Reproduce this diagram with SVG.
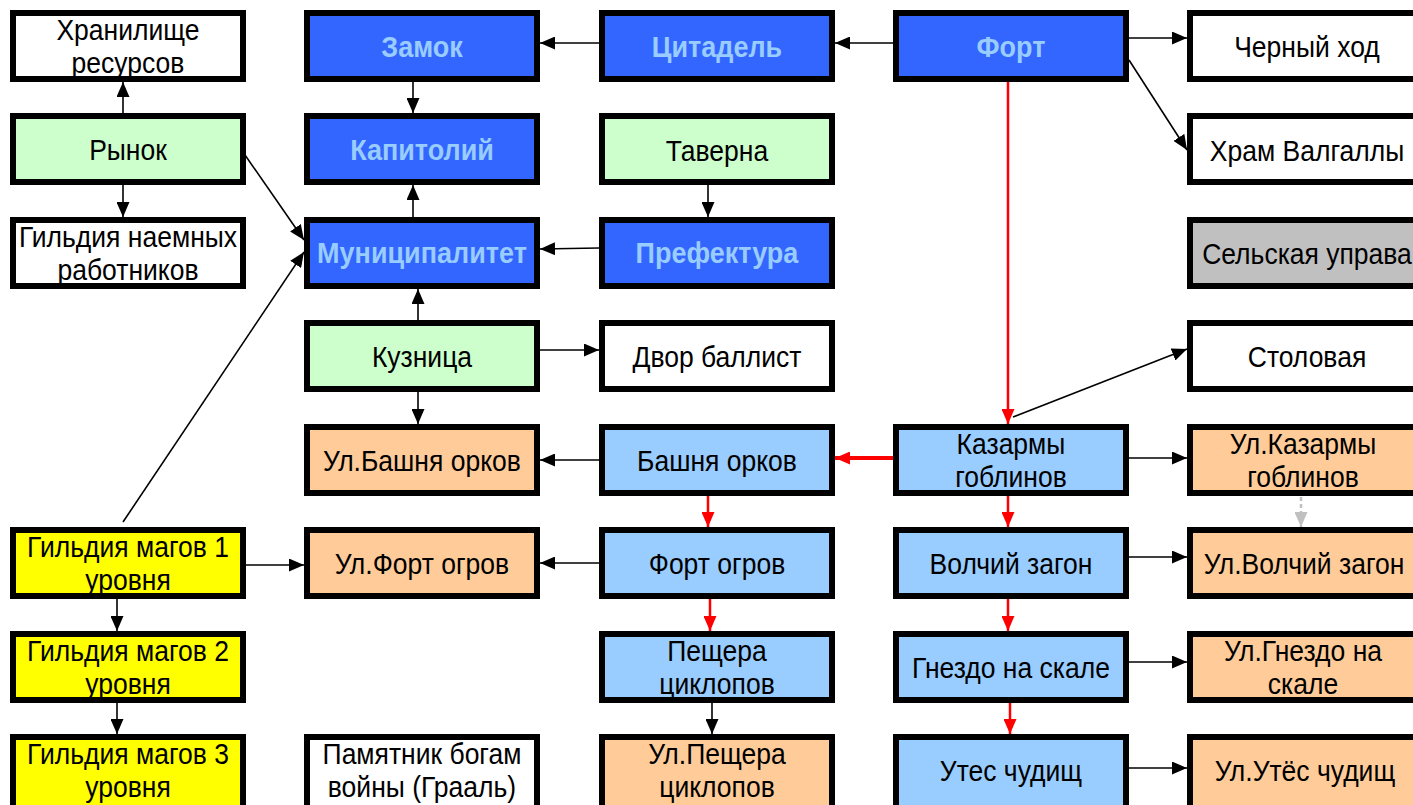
<svg xmlns="http://www.w3.org/2000/svg" width="1413" height="805" viewBox="0 0 1413 805">
<style>
.b{stroke:#000;stroke-width:6}
.w{fill:#fff}.g{fill:#ccffcc}.d{fill:#3366ff}.l{fill:#99ccff}.o{fill:#ffcc99}.y{fill:#ffff00}.s{fill:#c0c0c0}
text{font-family:"Liberation Sans",Arial,sans-serif;font-size:26.5px;text-anchor:middle;fill:#000;transform-box:fill-box;transform-origin:center;transform:scaleY(1.08)}
text.t{font-weight:bold;fill:#99ccff;font-size:27px}
.k{stroke:#000;stroke-width:1.6;fill:none;marker-end:url(#ak)}
.r{stroke:#ff0000;stroke-width:2.5;fill:none;marker-end:url(#ar)}
.rt{stroke:#ff0000;stroke-width:4;fill:none;marker-end:url(#ar)}
.gr{stroke:#c0c0c0;stroke-width:2.5;stroke-dasharray:4 3;fill:none;marker-end:url(#ag)}
</style>
<defs>
<marker id="ak" viewBox="0 0 15 13" refX="15" refY="6.5" markerWidth="15" markerHeight="13" markerUnits="userSpaceOnUse" orient="auto"><path d="M0,0L15,6.5L0,13z" fill="#000"/></marker>
<marker id="ar" viewBox="0 0 15 13" refX="15" refY="6.5" markerWidth="15" markerHeight="13" markerUnits="userSpaceOnUse" orient="auto"><path d="M0,0L15,6.5L0,13z" fill="#ff0000"/></marker>
<marker id="ag" viewBox="0 0 15 13" refX="15" refY="6.5" markerWidth="15" markerHeight="13" markerUnits="userSpaceOnUse" orient="auto"><path d="M0,0L15,6.5L0,13z" fill="#c0c0c0"/></marker>
</defs>
<rect width="1413" height="805" fill="#fff"/>
<g id="connectors">
<line class="k" x1="123" y1="113" x2="123" y2="82"/>
<line class="k" x1="123" y1="185" x2="123" y2="217"/>
<line class="k" x1="245" y1="155" x2="304" y2="240"/>
<line class="k" x1="123" y1="522" x2="304" y2="252"/>
<line class="k" x1="599" y1="43" x2="540" y2="43"/>
<line class="k" x1="893" y1="43" x2="835" y2="43"/>
<line class="k" x1="413" y1="82" x2="413" y2="113"/>
<line class="k" x1="413" y1="217" x2="413" y2="185"/>
<line class="k" x1="708" y1="185" x2="708" y2="217"/>
<line class="k" x1="599" y1="248" x2="540" y2="249"/>
<line class="k" x1="418" y1="320" x2="418" y2="289"/>
<line class="k" x1="540" y1="350" x2="599" y2="350"/>
<line class="k" x1="418" y1="392" x2="418" y2="424"/>
<line class="k" x1="599" y1="460" x2="540" y2="460"/>
<line class="k" x1="599" y1="563" x2="540" y2="563"/>
<line class="k" x1="246" y1="565" x2="304" y2="565"/>
<line class="k" x1="117" y1="599" x2="117" y2="631"/>
<line class="k" x1="117" y1="702" x2="117" y2="734"/>
<line class="k" x1="1129" y1="38" x2="1187" y2="38"/>
<line class="k" x1="1129" y1="60" x2="1187" y2="150"/>
<line class="r" x1="1008" y1="82" x2="1008" y2="424"/>
<line class="k" x1="1013" y1="417" x2="1187" y2="349"/>
<line class="rt" x1="893" y1="458" x2="835" y2="458"/>
<line class="k" x1="1129" y1="458" x2="1187" y2="458"/>
<line class="r" x1="1008" y1="496" x2="1008" y2="527"/>
<line class="gr" x1="1301" y1="490" x2="1301" y2="527"/>
<line class="k" x1="1129" y1="557" x2="1187" y2="557"/>
<line class="r" x1="1008" y1="599" x2="1008" y2="631"/>
<line class="k" x1="1129" y1="662" x2="1187" y2="662"/>
<line class="r" x1="1010" y1="702" x2="1010" y2="734"/>
<line class="k" x1="1129" y1="768" x2="1187" y2="768"/>
<line class="r" x1="708" y1="496" x2="708" y2="527"/>
<line class="r" x1="710" y1="599" x2="710" y2="631"/>
<line class="k" x1="712" y1="702" x2="712" y2="734"/>
</g>
<g id="n-hranilishche"><rect class="b w" x="13" y="13" width="230" height="66"/><text x="128" y="39">Хранилище</text><text x="128" y="72">ресурсов</text></g>
<g id="n-rynok"><rect class="b g" x="13" y="116" width="230" height="66"/><text x="128" y="159">Рынок</text></g>
<g id="n-gildiya-naemnyh"><rect class="b w" x="13" y="220" width="230" height="66"/><text x="128" y="246">Гильдия наемных</text><text x="128" y="279">работников</text></g>
<g id="n-zamok"><rect class="b d" x="307" y="13" width="230" height="66"/><text class="t" x="422" y="56">Замок</text></g>
<g id="n-kapitoliy"><rect class="b d" x="307" y="116" width="230" height="66"/><text class="t" x="422" y="159">Капитолий</text></g>
<g id="n-municipalitet"><rect class="b d" x="307" y="220" width="230" height="66"/><text class="t" x="422" y="262">Муниципалитет</text></g>
<g id="n-kuznica"><rect class="b g" x="307" y="323" width="230" height="66"/><text x="422" y="366">Кузница</text></g>
<g id="n-ul-bashnya"><rect class="b o" x="307" y="427" width="230" height="66"/><text x="422" y="470">Ул.Башня орков</text></g>
<g id="n-ul-fort-ogrov"><rect class="b o" x="307" y="530" width="230" height="66"/><text x="422" y="573">Ул.Форт огров</text></g>
<g id="n-pamyatnik"><rect class="b w" x="307" y="737" width="230" height="80"/><text x="422" y="763">Памятник богам</text><text x="422" y="796">войны (Грааль)</text></g>
<g id="n-citadel"><rect class="b d" x="602" y="13" width="230" height="66"/><text class="t" x="717" y="56">Цитадель</text></g>
<g id="n-taverna"><rect class="b g" x="602" y="116" width="230" height="66"/><text x="717" y="160">Таверна</text></g>
<g id="n-prefektura"><rect class="b d" x="602" y="220" width="230" height="66"/><text class="t" x="717" y="262">Префектура</text></g>
<g id="n-dvor-ballist"><rect class="b w" x="602" y="323" width="230" height="66"/><text x="717" y="366">Двор баллист</text></g>
<g id="n-bashnya-orkov"><rect class="b l" x="602" y="427" width="230" height="66"/><text x="717" y="470">Башня орков</text></g>
<g id="n-fort-ogrov"><rect class="b l" x="602" y="530" width="230" height="66"/><text x="717" y="573">Форт огров</text></g>
<g id="n-peshchera"><rect class="b l" x="602" y="634" width="230" height="66"/><text x="717" y="660">Пещера</text><text x="717" y="693">циклопов</text></g>
<g id="n-ul-peshchera"><rect class="b o" x="602" y="737" width="230" height="80"/><text x="717" y="763">Ул.Пещера</text><text x="717" y="796">циклопов</text></g>
<g id="n-fort"><rect class="b d" x="896" y="13" width="230" height="66"/><text class="t" x="1011" y="56">Форт</text></g>
<g id="n-kazarmy"><rect class="b l" x="896" y="427" width="230" height="66"/><text x="1011" y="453">Казармы</text><text x="1011" y="486">гоблинов</text></g>
<g id="n-volchiy"><rect class="b l" x="896" y="530" width="230" height="66"/><text x="1011" y="573">Волчий загон</text></g>
<g id="n-gnezdo"><rect class="b l" x="896" y="634" width="230" height="66"/><text x="1011" y="677">Гнездо на скале</text></g>
<g id="n-utes"><rect class="b l" x="896" y="737" width="230" height="80"/><text x="1011" y="780">Утес чудищ</text></g>
<g id="n-chernyi-hod"><rect class="b w" x="1190" y="13" width="240" height="66"/><text x="1307" y="56">Черный ход</text></g>
<g id="n-hram"><rect class="b w" x="1190" y="116" width="240" height="66"/><text x="1307" y="160">Храм Валгаллы</text></g>
<g id="n-selskaya"><rect class="b s" x="1190" y="220" width="240" height="66"/><text x="1307" y="263">Сельская управа</text></g>
<g id="n-stolovaya"><rect class="b w" x="1190" y="323" width="240" height="66"/><text x="1307" y="366">Столовая</text></g>
<g id="n-ul-kazarmy"><rect class="b o" x="1190" y="427" width="240" height="66"/><text x="1303" y="453">Ул.Казармы</text><text x="1303" y="486">гоблинов</text></g>
<g id="n-ul-volchiy"><rect class="b o" x="1190" y="530" width="240" height="66"/><text x="1304" y="573">Ул.Волчий загон</text></g>
<g id="n-ul-gnezdo"><rect class="b o" x="1190" y="634" width="240" height="66"/><text x="1303" y="660">Ул.Гнездо на</text><text x="1303" y="693">скале</text></g>
<g id="n-ul-utes"><rect class="b o" x="1190" y="737" width="240" height="80"/><text x="1305" y="780">Ул.Утёс чудищ</text></g>
<g id="n-gildiya-1"><rect class="b y" x="13" y="530" width="230" height="66"/><text x="128" y="556">Гильдия магов 1</text><text x="128" y="589">уровня</text></g>
<g id="n-gildiya-2"><rect class="b y" x="13" y="634" width="230" height="66"/><text x="128" y="660">Гильдия магов 2</text><text x="128" y="693">уровня</text></g>
<g id="n-gildiya-3"><rect class="b y" x="13" y="737" width="230" height="80"/><text x="128" y="763">Гильдия магов 3</text><text x="128" y="796">уровня</text></g>
</svg>
